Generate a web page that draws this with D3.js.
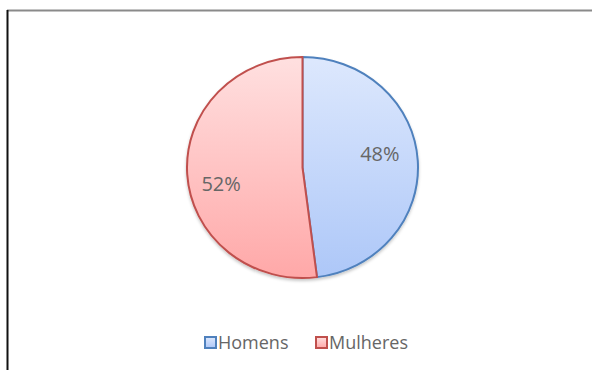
<!DOCTYPE html>
<html>
<head>
<meta charset="utf-8">
<script src="https://cdn.jsdelivr.net/npm/d3@7"></script>
<style>
  html, body { margin: 0; padding: 0; background: #fff; }
  svg { display: block; }
</style>
</head>
<body>
<svg id="chart" width="592" height="370"></svg>
<script>
// Distribuição por sexo
const categories = ["Homens", "Mulheres"];
const values = [48, 52];
const labels = ["48%", "52%"];

const palette = {
  Homens:   { top: "#dde8fd", bottom: "#adc7f8", stroke: "#4f81bd" },
  Mulheres: { top: "#ffe0e0", bottom: "#ffa8a8", stroke: "#c0504d" }
};

const W = 592, H = 370;
const svg = d3.select("#chart");
const font = "'Open Sans', 'Liberation Sans', sans-serif";

// Frame lines
svg.append("line").attr("x1", 7).attr("x2", W).attr("y1", 10.5).attr("y2", 10.5)
  .attr("stroke", "#8a8a8a").attr("stroke-width", 2);
svg.append("line").attr("x1", 7.5).attr("x2", 7.5).attr("y1", 10).attr("y2", H)
  .attr("stroke", "#111").attr("stroke-width", 2);

const cx = 302.5, cy = 167.5, r = 115.5, ry = 110.5;

const defs = svg.append("defs");
categories.forEach((c, i) => {
  const g = defs.append("linearGradient")
    .attr("id", "grad" + i)
    .attr("gradientUnits", "userSpaceOnUse")
    .attr("x1", 0).attr("x2", 0).attr("y1", -r).attr("y2", r);
  g.append("stop").attr("offset", "0%").attr("stop-color", palette[c].top);
  g.append("stop").attr("offset", "100%").attr("stop-color", palette[c].bottom);
});

// Soft shadow under the pie
const shadow = defs.append("filter").attr("id", "shadow")
  .attr("x", "-10%").attr("y", "-10%").attr("width", "120%").attr("height", "125%");
shadow.append("feDropShadow")
  .attr("dx", 0).attr("dy", 2).attr("stdDeviation", 1.6)
  .attr("flood-color", "#000").attr("flood-opacity", 0.22);

const pie = d3.pie().sort(null).value(d => d.value);
const data = pie(categories.map((c, i) => ({ cat: c, value: values[i], label: labels[i] })));
const arc = d3.arc().innerRadius(0).outerRadius(r);
const labelArc = d3.arc().innerRadius(r * 0.68).outerRadius(r * 0.68);
// Small nudges so the labels sit where the spreadsheet places them
const labelNudge = [[-1, -9], [-3, 12]];

const g = svg.append("g")
  .attr("filter", "url(#shadow)")
  .append("g")
  .attr("transform", `translate(${cx},${cy}) scale(1,${ry / r})`);

g.selectAll("path.slice")
  .data(data)
  .join("path")
  .attr("class", "slice")
  .attr("d", arc)
  .attr("fill", (d, i) => `url(#grad${i})`)
  .attr("stroke", d => palette[d.data.cat].stroke)
  .attr("stroke-width", 2)
  .attr("vector-effect", "non-scaling-stroke")
  .attr("stroke-linejoin", "round");

// Percentage labels
const lg = svg.append("g").attr("transform", `translate(${cx},${cy})`);
lg.selectAll("text")
  .data(data)
  .join("text")
  .attr("x", (d, i) => labelArc.centroid(d)[0] + labelNudge[i][0])
  .attr("y", (d, i) => labelArc.centroid(d)[1] * ry / r + labelNudge[i][1])
  .attr("text-anchor", "middle")
  .attr("dy", "0.36em")
  .attr("font-family", font)
  .attr("font-size", 20)
  .attr("fill", "#666")
  .text(d => d.data.label);

// Legend
const legendX = [204, 315];
const leg = svg.append("g");
categories.forEach((c, i) => {
  const lgd = defs.append("linearGradient").attr("id", "lgrad" + i)
    .attr("x1", 0).attr("x2", 0).attr("y1", 0).attr("y2", 1);
  lgd.append("stop").attr("offset", "0%").attr("stop-color", palette[c].top);
  lgd.append("stop").attr("offset", "100%").attr("stop-color", palette[c].bottom);
  const item = leg.append("g").attr("transform", `translate(${legendX[i]},336)`);
  item.append("rect")
    .attr("x", 1).attr("y", 1).attr("width", 11).attr("height", 11)
    .attr("fill", `url(#lgrad${i})`)
    .attr("stroke", palette[c].stroke).attr("stroke-width", 2);
  item.append("text")
    .attr("x", 14).attr("y", 12.5)
    .attr("font-family", font)
    .attr("font-size", 18)
    .attr("fill", "#666")
    .text(c);
});
</script>
</body>
</html>
